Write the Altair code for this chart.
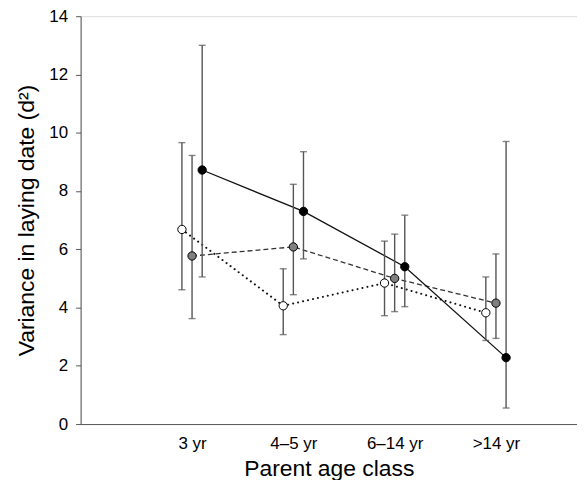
import altair as alt
import pandas as pd

categories = ["3 yr", "4–5 yr", "6–14 yr", ">14 yr"]
series_names = ["white", "gray", "black"]

white_mean = [6.68, 4.06, 4.84, 3.82]
white_low = [4.61, 3.07, 3.72, 2.87]
white_high = [9.66, 5.33, 6.28, 5.05]

gray_mean = [5.77, 6.08, 5.00, 4.15]
gray_low = [3.62, 4.44, 3.86, 2.94]
gray_high = [9.22, 8.23, 6.52, 5.84]

black_mean = [8.72, 7.30, 5.40, 2.28]
black_low = [5.05, 5.67, 4.03, 0.55]
black_high = [13.0, 9.35, 7.17, 9.70]

offsets = {"white": -0.1, "gray": 0.0, "black": 0.1}
means = {"white": white_mean, "gray": gray_mean, "black": black_mean}
lows = {"white": white_low, "gray": gray_low, "black": black_low}
highs = {"white": white_high, "gray": gray_high, "black": black_high}

rows = []
for s in series_names:
    for i, c in enumerate(categories):
        rows.append({
            "series": s,
            "cat": c,
            "pos": i + 1 + offsets[s],
            "mean": means[s][i],
            "low": lows[s][i],
            "high": highs[s][i],
        })
df = pd.DataFrame(rows)

label_expr = ("datum.value == 1 ? '3 yr' : datum.value == 2 ? '4–5 yr' : "
              "datum.value == 3 ? '6–14 yr' : datum.value == 4 ? '>14 yr' : ''")

FONT = "Liberation Sans"

x = alt.X("pos:Q",
          scale=alt.Scale(domain=[-0.1, 4.8], nice=False, zero=False),
          axis=alt.Axis(title="Parent age class", values=[1, 2, 3, 4],
                        labelExpr=label_expr, ticks=False, grid=False,
                        labelFont=FONT, labelFontSize=17,
                        labelColor="#000", labelPadding=12,
                        titleFont=FONT, titleFontSize=23,
                        titleFontWeight="normal", titleColor="#000",
                        titlePadding=6, domainColor="#555"))
y = alt.Y("mean:Q",
          scale=alt.Scale(domain=[0, 14], nice=False),
          axis=alt.Axis(title="Variance in laying date (d²)",
                        values=list(range(0, 15, 2)), grid=False,
                        tickSize=5, tickColor="#555", domainColor="#555",
                        labelFont=FONT, labelFontSize=17,
                        labelColor="#000", labelPadding=8,
                        titleFont=FONT, titleFontSize=23,
                        titleFontWeight="normal", titleColor="#000",
                        titlePadding=10))

base = alt.Chart(df)

line_white = base.transform_filter(alt.datum.series == "white").mark_line(
    color="#111", strokeWidth=2, strokeDash=[0.1, 5], strokeCap="round").encode(x=x, y=y)
line_gray = base.transform_filter(alt.datum.series == "gray").mark_line(
    color="#333", strokeWidth=1.3, strokeDash=[5, 3]).encode(x=x, y=y)
line_black = base.transform_filter(alt.datum.series == "black").mark_line(
    color="#111", strokeWidth=1.3).encode(x=x, y=y)

rules = base.mark_rule(color="#555", strokeWidth=1.4).encode(
    x="pos:Q", y="low:Q", y2="high:Q")

top_caps = base.mark_tick(color="#555", orient="horizontal", size=7, thickness=1.4).encode(
    x="pos:Q", y="high:Q")
bot_caps = base.mark_tick(color="#555", orient="horizontal", size=7, thickness=1.4).encode(
    x="pos:Q", y="low:Q")

fill_scale = alt.Scale(domain=series_names, range=["#ffffff", "#808080", "#000000"])
points = base.mark_point(filled=True, size=70, stroke="#000", strokeWidth=1, opacity=1).encode(
    x="pos:Q", y="mean:Q",
    fill=alt.Fill("series:N", scale=fill_scale, legend=None),
)

chart = alt.layer(line_white, line_gray, line_black, rules, top_caps, bot_caps, points).properties(
    width=499, height=410,
    autosize=alt.AutoSizeParams(type="none"),
    padding={"left": 73, "top": 7, "right": 0, "bottom": 55},
).configure_view(stroke=None).configure(background="white")

chart.save("out.html", embed_options={"renderer": "svg", "actions": False})
